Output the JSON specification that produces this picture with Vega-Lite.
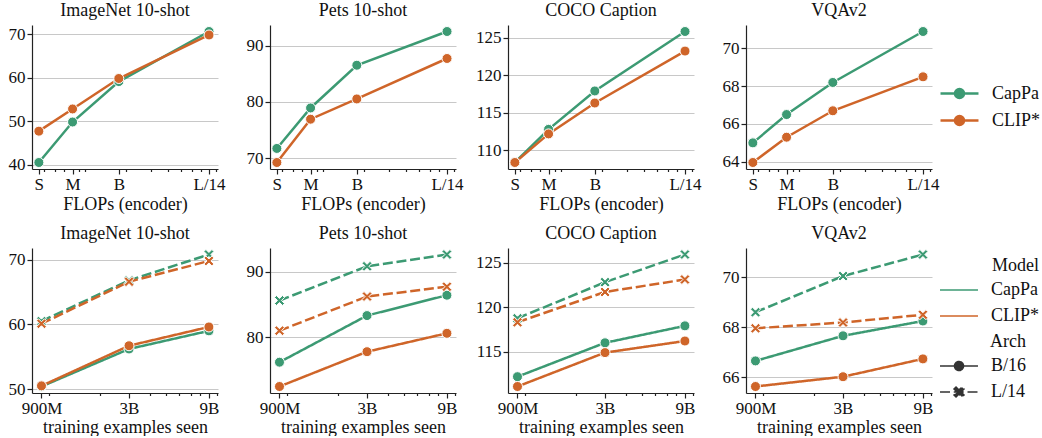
{
  "$schema": "https://vega.github.io/schema/vega-lite/v6.json",
  "background": "white",
  "padding": {"left": 8, "top": 1, "right": 2, "bottom": 0},
  "config": {
    "font": "Liberation Serif",
    "view": {"stroke": null},
    "title": {"font": "Liberation Serif", "fontSize": 18, "fontWeight": "normal", "color": "#111", "offset": 5, "anchor": "middle"},
    "axis": {
      "labelFont": "Liberation Serif", "labelFontSize": 17, "labelColor": "#111",
      "titleFont": "Liberation Serif", "titleFontSize": 18, "titleFontWeight": "normal", "titleColor": "#111",
      "domainColor": "#222", "domainWidth": 1.2, "tickColor": "#222", "tickWidth": 1.2, "tickSize": 5,
      "gridColor": "#c8c8c8", "gridWidth": 1, "labelPadding": 2
    },
    "legend": {
      "labelFont": "Liberation Serif", "labelFontSize": 18, "labelColor": "#111",
      "titleFont": "Liberation Serif", "titleFontSize": 18, "titleFontWeight": "normal", "titleColor": "#111",
      "symbolSize": 324, "labelOffset": 22, "rowPadding": 7, "symbolStrokeWidth": 2.5, "titlePadding": 5
    }
  },
  "datasets": {
    "flops": [
      {"dataset": "ImageNet 10-shot", "model": "CapPa", "size": "S", "flops": 4.6, "score": 40.5},
      {"dataset": "ImageNet 10-shot", "model": "CapPa", "size": "M", "flops": 8.1, "score": 49.8},
      {"dataset": "ImageNet 10-shot", "model": "CapPa", "size": "B", "flops": 17.6, "score": 59.1},
      {"dataset": "ImageNet 10-shot", "model": "CapPa", "size": "L/14", "flops": 80, "score": 70.6},
      {"dataset": "ImageNet 10-shot", "model": "CLIP*", "size": "S", "flops": 4.6, "score": 47.7},
      {"dataset": "ImageNet 10-shot", "model": "CLIP*", "size": "M", "flops": 8.1, "score": 52.8},
      {"dataset": "ImageNet 10-shot", "model": "CLIP*", "size": "B", "flops": 17.6, "score": 59.8},
      {"dataset": "ImageNet 10-shot", "model": "CLIP*", "size": "L/14", "flops": 80, "score": 69.8},
      {"dataset": "Pets 10-shot", "model": "CapPa", "size": "S", "flops": 4.6, "score": 71.7},
      {"dataset": "Pets 10-shot", "model": "CapPa", "size": "M", "flops": 8.1, "score": 78.9},
      {"dataset": "Pets 10-shot", "model": "CapPa", "size": "B", "flops": 17.6, "score": 86.5},
      {"dataset": "Pets 10-shot", "model": "CapPa", "size": "L/14", "flops": 80, "score": 92.5},
      {"dataset": "Pets 10-shot", "model": "CLIP*", "size": "S", "flops": 4.6, "score": 69.2},
      {"dataset": "Pets 10-shot", "model": "CLIP*", "size": "M", "flops": 8.1, "score": 76.9},
      {"dataset": "Pets 10-shot", "model": "CLIP*", "size": "B", "flops": 17.6, "score": 80.5},
      {"dataset": "Pets 10-shot", "model": "CLIP*", "size": "L/14", "flops": 80, "score": 87.7},
      {"dataset": "COCO Caption", "model": "CapPa", "size": "S", "flops": 4.6, "score": 108.4},
      {"dataset": "COCO Caption", "model": "CapPa", "size": "M", "flops": 8.1, "score": 112.8},
      {"dataset": "COCO Caption", "model": "CapPa", "size": "B", "flops": 17.6, "score": 117.9},
      {"dataset": "COCO Caption", "model": "CapPa", "size": "L/14", "flops": 80, "score": 125.8},
      {"dataset": "COCO Caption", "model": "CLIP*", "size": "S", "flops": 4.6, "score": 108.4},
      {"dataset": "COCO Caption", "model": "CLIP*", "size": "M", "flops": 8.1, "score": 112.2},
      {"dataset": "COCO Caption", "model": "CLIP*", "size": "B", "flops": 17.6, "score": 116.3},
      {"dataset": "COCO Caption", "model": "CLIP*", "size": "L/14", "flops": 80, "score": 123.2},
      {"dataset": "VQAv2", "model": "CapPa", "size": "S", "flops": 4.6, "score": 65.0},
      {"dataset": "VQAv2", "model": "CapPa", "size": "M", "flops": 8.1, "score": 66.5},
      {"dataset": "VQAv2", "model": "CapPa", "size": "B", "flops": 17.6, "score": 68.2},
      {"dataset": "VQAv2", "model": "CapPa", "size": "L/14", "flops": 80, "score": 70.9},
      {"dataset": "VQAv2", "model": "CLIP*", "size": "S", "flops": 4.6, "score": 63.96},
      {"dataset": "VQAv2", "model": "CLIP*", "size": "M", "flops": 8.1, "score": 65.3},
      {"dataset": "VQAv2", "model": "CLIP*", "size": "B", "flops": 17.6, "score": 66.7},
      {"dataset": "VQAv2", "model": "CLIP*", "size": "L/14", "flops": 80, "score": 68.5}
    ],
    "examples": [
      {"dataset": "ImageNet 10-shot", "model": "CapPa", "arch": "B/16", "seen": 0.9, "score": 50.4},
      {"dataset": "ImageNet 10-shot", "model": "CapPa", "arch": "B/16", "seen": 3, "score": 56.2},
      {"dataset": "ImageNet 10-shot", "model": "CapPa", "arch": "B/16", "seen": 9, "score": 59.0},
      {"dataset": "ImageNet 10-shot", "model": "CapPa", "arch": "L/14", "seen": 0.9, "score": 60.5},
      {"dataset": "ImageNet 10-shot", "model": "CapPa", "arch": "L/14", "seen": 3, "score": 66.8},
      {"dataset": "ImageNet 10-shot", "model": "CapPa", "arch": "L/14", "seen": 9, "score": 70.8},
      {"dataset": "ImageNet 10-shot", "model": "CLIP*", "arch": "B/16", "seen": 0.9, "score": 50.5},
      {"dataset": "ImageNet 10-shot", "model": "CLIP*", "arch": "B/16", "seen": 3, "score": 56.7},
      {"dataset": "ImageNet 10-shot", "model": "CLIP*", "arch": "B/16", "seen": 9, "score": 59.6},
      {"dataset": "ImageNet 10-shot", "model": "CLIP*", "arch": "L/14", "seen": 0.9, "score": 60.1},
      {"dataset": "ImageNet 10-shot", "model": "CLIP*", "arch": "L/14", "seen": 3, "score": 66.6},
      {"dataset": "ImageNet 10-shot", "model": "CLIP*", "arch": "L/14", "seen": 9, "score": 69.8},
      {"dataset": "Pets 10-shot", "model": "CapPa", "arch": "B/16", "seen": 0.9, "score": 76.2},
      {"dataset": "Pets 10-shot", "model": "CapPa", "arch": "B/16", "seen": 3, "score": 83.3},
      {"dataset": "Pets 10-shot", "model": "CapPa", "arch": "B/16", "seen": 9, "score": 86.4},
      {"dataset": "Pets 10-shot", "model": "CapPa", "arch": "L/14", "seen": 0.9, "score": 85.6},
      {"dataset": "Pets 10-shot", "model": "CapPa", "arch": "L/14", "seen": 3, "score": 90.8},
      {"dataset": "Pets 10-shot", "model": "CapPa", "arch": "L/14", "seen": 9, "score": 92.6},
      {"dataset": "Pets 10-shot", "model": "CLIP*", "arch": "B/16", "seen": 0.9, "score": 72.5},
      {"dataset": "Pets 10-shot", "model": "CLIP*", "arch": "B/16", "seen": 3, "score": 77.8},
      {"dataset": "Pets 10-shot", "model": "CLIP*", "arch": "B/16", "seen": 9, "score": 80.6},
      {"dataset": "Pets 10-shot", "model": "CLIP*", "arch": "L/14", "seen": 0.9, "score": 81.0},
      {"dataset": "Pets 10-shot", "model": "CLIP*", "arch": "L/14", "seen": 3, "score": 86.2},
      {"dataset": "Pets 10-shot", "model": "CLIP*", "arch": "L/14", "seen": 9, "score": 87.7},
      {"dataset": "COCO Caption", "model": "CapPa", "arch": "B/16", "seen": 0.9, "score": 112.2},
      {"dataset": "COCO Caption", "model": "CapPa", "arch": "B/16", "seen": 3, "score": 116.0},
      {"dataset": "COCO Caption", "model": "CapPa", "arch": "B/16", "seen": 9, "score": 117.9},
      {"dataset": "COCO Caption", "model": "CapPa", "arch": "L/14", "seen": 0.9, "score": 118.75},
      {"dataset": "COCO Caption", "model": "CapPa", "arch": "L/14", "seen": 3, "score": 122.8},
      {"dataset": "COCO Caption", "model": "CapPa", "arch": "L/14", "seen": 9, "score": 125.9},
      {"dataset": "COCO Caption", "model": "CLIP*", "arch": "B/16", "seen": 0.9, "score": 111.1},
      {"dataset": "COCO Caption", "model": "CLIP*", "arch": "B/16", "seen": 3, "score": 114.9},
      {"dataset": "COCO Caption", "model": "CLIP*", "arch": "B/16", "seen": 9, "score": 116.2},
      {"dataset": "COCO Caption", "model": "CLIP*", "arch": "L/14", "seen": 0.9, "score": 118.3},
      {"dataset": "COCO Caption", "model": "CLIP*", "arch": "L/14", "seen": 3, "score": 121.7},
      {"dataset": "COCO Caption", "model": "CLIP*", "arch": "L/14", "seen": 9, "score": 123.1},
      {"dataset": "VQAv2", "model": "CapPa", "arch": "B/16", "seen": 0.9, "score": 66.66},
      {"dataset": "VQAv2", "model": "CapPa", "arch": "B/16", "seen": 3, "score": 67.66},
      {"dataset": "VQAv2", "model": "CapPa", "arch": "B/16", "seen": 9, "score": 68.25},
      {"dataset": "VQAv2", "model": "CapPa", "arch": "L/14", "seen": 0.9, "score": 68.6},
      {"dataset": "VQAv2", "model": "CapPa", "arch": "L/14", "seen": 3, "score": 70.04},
      {"dataset": "VQAv2", "model": "CapPa", "arch": "L/14", "seen": 9, "score": 70.9},
      {"dataset": "VQAv2", "model": "CLIP*", "arch": "B/16", "seen": 0.9, "score": 65.64},
      {"dataset": "VQAv2", "model": "CLIP*", "arch": "B/16", "seen": 3, "score": 66.03},
      {"dataset": "VQAv2", "model": "CLIP*", "arch": "B/16", "seen": 9, "score": 66.74},
      {"dataset": "VQAv2", "model": "CLIP*", "arch": "L/14", "seen": 0.9, "score": 67.96},
      {"dataset": "VQAv2", "model": "CLIP*", "arch": "L/14", "seen": 3, "score": 68.19},
      {"dataset": "VQAv2", "model": "CLIP*", "arch": "L/14", "seen": 9, "score": 68.5}
    ]
  },
  "spacing": 11,
  "resolve": {"legend": {"color": "independent", "strokeDash": "independent"}},
  "vconcat": [
    {
      "data": {"name": "flops"},
      "bounds": "flush",
      "spacing": 52,
      "hconcat": [
        {
          "title": "ImageNet 10-shot",
          "transform": [{"filter": "datum.dataset == 'ImageNet 10-shot'"}],
          "width": 186, "height": 144,
          "encoding": {
            "x": {"field": "flops", "type": "quantitative", "scale": {"type": "log", "domain": [4.1, 93], "nice": false},
              "axis": {"title": "FLOPs (encoder)", "grid": false, "labelOverlap": false, "labelFlush": false, "titlePadding": 3,
                "values": [4.6, 5, 6, 7, 8.1, 9, 10, 17.6, 20, 30, 40, 50, 60, 70, 80, 90],
                "labelExpr": "datum.value == 4.6 ? 'S' : datum.value == 8.1 ? 'M' : datum.value == 17.6 ? 'B' : datum.value == 80 ? 'L/14' : ''",
                "tickSize": {"condition": {"test": "datum.value == 4.6 || datum.value == 8.1 || datum.value == 17.6 || datum.value == 80", "value": 5}, "value": 2.5}}},
            "y": {"field": "score", "type": "quantitative", "scale": {"zero": false, "nice": false, "padding": 6.5},
              "axis": {"title": null, "grid": true, "format": "d", "values": [40, 50, 60, 70]}},
            "color": {"field": "model", "type": "nominal", "scale": {"domain": ["CapPa", "CLIP*"], "range": ["#3c9a73", "#cf6529"]},
              "legend": {"title": null, "orient": "none", "legendX": 917, "legendY": 58,
                "symbolType": "M-2.11,0L2.11,0M-0.5,0A0.5,0.5,0,1,1,0.5,0A0.5,0.5,0,1,1,-0.5,0Z",
                "encoding": {"symbols": {
                  "fill": {"value": {"expr": "datum.value === 'CapPa' ? '#3c9a73' : '#cf6529'"}},
                  "stroke": {"value": {"expr": "datum.value === 'CapPa' ? '#3c9a73' : '#cf6529'"}},
                  "strokeWidth": {"value": 2.5}}}}}
          },
          "layer": [
            {"mark": {"type": "line", "strokeWidth": 2.5}},
            {"mark": {"type": "point", "filled": true, "shape": "circle", "size": 100, "stroke": "white", "strokeWidth": 1, "opacity": 1}}
          ]
        },
        {
          "title": "Pets 10-shot",
          "transform": [{"filter": "datum.dataset == 'Pets 10-shot'"}],
          "width": 186, "height": 144,
          "encoding": {
            "x": {"field": "flops", "type": "quantitative", "scale": {"type": "log", "domain": [4.1, 93], "nice": false},
              "axis": {"title": "FLOPs (encoder)", "grid": false, "labelOverlap": false, "labelFlush": false, "titlePadding": 3,
                "values": [4.6, 5, 6, 7, 8.1, 9, 10, 17.6, 20, 30, 40, 50, 60, 70, 80, 90],
                "labelExpr": "datum.value == 4.6 ? 'S' : datum.value == 8.1 ? 'M' : datum.value == 17.6 ? 'B' : datum.value == 80 ? 'L/14' : ''",
                "tickSize": {"condition": {"test": "datum.value == 4.6 || datum.value == 8.1 || datum.value == 17.6 || datum.value == 80", "value": 5}, "value": 2.5}}},
            "y": {"field": "score", "type": "quantitative", "scale": {"zero": false, "nice": false, "padding": 6.5},
              "axis": {"title": null, "grid": true, "format": "d", "values": [70, 80, 90]}},
            "color": {"field": "model", "type": "nominal", "scale": {"domain": ["CapPa", "CLIP*"], "range": ["#3c9a73", "#cf6529"]},
              "legend": {"title": null, "orient": "none", "legendX": 917, "legendY": 58,
                "symbolType": "M-2.11,0L2.11,0M-0.5,0A0.5,0.5,0,1,1,0.5,0A0.5,0.5,0,1,1,-0.5,0Z",
                "encoding": {"symbols": {
                  "fill": {"value": {"expr": "datum.value === 'CapPa' ? '#3c9a73' : '#cf6529'"}},
                  "stroke": {"value": {"expr": "datum.value === 'CapPa' ? '#3c9a73' : '#cf6529'"}},
                  "strokeWidth": {"value": 2.5}}}}}
          },
          "layer": [
            {"mark": {"type": "line", "strokeWidth": 2.5}},
            {"mark": {"type": "point", "filled": true, "shape": "circle", "size": 100, "stroke": "white", "strokeWidth": 1, "opacity": 1}}
          ]
        },
        {
          "title": "COCO Caption",
          "transform": [{"filter": "datum.dataset == 'COCO Caption'"}],
          "width": 186, "height": 144,
          "encoding": {
            "x": {"field": "flops", "type": "quantitative", "scale": {"type": "log", "domain": [4.1, 93], "nice": false},
              "axis": {"title": "FLOPs (encoder)", "grid": false, "labelOverlap": false, "labelFlush": false, "titlePadding": 3,
                "values": [4.6, 5, 6, 7, 8.1, 9, 10, 17.6, 20, 30, 40, 50, 60, 70, 80, 90],
                "labelExpr": "datum.value == 4.6 ? 'S' : datum.value == 8.1 ? 'M' : datum.value == 17.6 ? 'B' : datum.value == 80 ? 'L/14' : ''",
                "tickSize": {"condition": {"test": "datum.value == 4.6 || datum.value == 8.1 || datum.value == 17.6 || datum.value == 80", "value": 5}, "value": 2.5}}},
            "y": {"field": "score", "type": "quantitative", "scale": {"zero": false, "nice": false, "padding": 6.5},
              "axis": {"title": null, "grid": true, "format": "d", "values": [110, 115, 120, 125]}},
            "color": {"field": "model", "type": "nominal", "scale": {"domain": ["CapPa", "CLIP*"], "range": ["#3c9a73", "#cf6529"]},
              "legend": {"title": null, "orient": "none", "legendX": 917, "legendY": 58,
                "symbolType": "M-2.11,0L2.11,0M-0.5,0A0.5,0.5,0,1,1,0.5,0A0.5,0.5,0,1,1,-0.5,0Z",
                "encoding": {"symbols": {
                  "fill": {"value": {"expr": "datum.value === 'CapPa' ? '#3c9a73' : '#cf6529'"}},
                  "stroke": {"value": {"expr": "datum.value === 'CapPa' ? '#3c9a73' : '#cf6529'"}},
                  "strokeWidth": {"value": 2.5}}}}}
          },
          "layer": [
            {"mark": {"type": "line", "strokeWidth": 2.5}},
            {"mark": {"type": "point", "filled": true, "shape": "circle", "size": 100, "stroke": "white", "strokeWidth": 1, "opacity": 1}}
          ]
        },
        {
          "title": "VQAv2",
          "transform": [{"filter": "datum.dataset == 'VQAv2'"}],
          "width": 186, "height": 144,
          "encoding": {
            "x": {"field": "flops", "type": "quantitative", "scale": {"type": "log", "domain": [4.1, 93], "nice": false},
              "axis": {"title": "FLOPs (encoder)", "grid": false, "labelOverlap": false, "labelFlush": false, "titlePadding": 3,
                "values": [4.6, 5, 6, 7, 8.1, 9, 10, 17.6, 20, 30, 40, 50, 60, 70, 80, 90],
                "labelExpr": "datum.value == 4.6 ? 'S' : datum.value == 8.1 ? 'M' : datum.value == 17.6 ? 'B' : datum.value == 80 ? 'L/14' : ''",
                "tickSize": {"condition": {"test": "datum.value == 4.6 || datum.value == 8.1 || datum.value == 17.6 || datum.value == 80", "value": 5}, "value": 2.5}}},
            "y": {"field": "score", "type": "quantitative", "scale": {"zero": false, "nice": false, "padding": 6.5},
              "axis": {"title": null, "grid": true, "format": "d", "values": [64, 66, 68, 70]}},
            "color": {"field": "model", "type": "nominal", "scale": {"domain": ["CapPa", "CLIP*"], "range": ["#3c9a73", "#cf6529"]},
              "legend": {"title": null, "orient": "none", "legendX": 917, "legendY": 58,
                "symbolType": "M-2.11,0L2.11,0M-0.5,0A0.5,0.5,0,1,1,0.5,0A0.5,0.5,0,1,1,-0.5,0Z",
                "encoding": {"symbols": {
                  "fill": {"value": {"expr": "datum.value === 'CapPa' ? '#3c9a73' : '#cf6529'"}},
                  "stroke": {"value": {"expr": "datum.value === 'CapPa' ? '#3c9a73' : '#cf6529'"}},
                  "strokeWidth": {"value": 2.5}}}}}
          },
          "layer": [
            {"mark": {"type": "line", "strokeWidth": 2.5}},
            {"mark": {"type": "point", "filled": true, "shape": "circle", "size": 100, "stroke": "white", "strokeWidth": 1, "opacity": 1}}
          ]
        }
      ]
    },
    {
      "data": {"name": "examples"},
      "bounds": "flush",
      "spacing": 52,
      "hconcat": [
        {
          "title": "ImageNet 10-shot",
          "transform": [{"filter": "datum.dataset == 'ImageNet 10-shot'"}],
          "width": 186, "height": 145,
          "encoding": {
            "x": {"field": "seen", "type": "quantitative", "scale": {"type": "log", "domain": [0.79, 10.2], "nice": false},
              "axis": {"title": "training examples seen", "grid": false, "labelOverlap": false, "labelFlush": false, "titlePadding": 2,
                "values": [0.9, 1, 2, 3, 4, 5, 6, 7, 8, 9, 10],
                "labelExpr": "datum.value == 0.9 ? '900M' : datum.value == 3 ? '3B' : datum.value == 9 ? '9B' : ''",
                "tickSize": {"condition": {"test": "datum.value == 0.9 || datum.value == 3 || datum.value == 9", "value": 5}, "value": 2.5}}},
            "y": {"field": "score", "type": "quantitative", "scale": {"zero": false, "nice": false, "padding": 6.5},
              "axis": {"title": null, "grid": true, "format": "d", "values": [50, 60, 70]}},
            "color": {"field": "model", "type": "nominal", "scale": {"domain": ["CapPa", "CLIP*"], "range": ["#3c9a73", "#cf6529"]},
              "legend": {"title": "Model", "titleAnchor": "end", "orient": "none", "legendX": 917, "legendY": 9,
                "symbolType": "M-2.11,0L2.11,0",
                "encoding": {"symbols": {
                  "stroke": {"value": {"expr": "datum.value === 'CapPa' ? '#3c9a73' : '#cf6529'"}},
                  "strokeWidth": {"value": 1.6}}}}}
          },
          "layer": [
            {"mark": {"type": "line", "strokeWidth": 2.5},
             "encoding": {"strokeDash": {"field": "arch", "type": "nominal", "scale": {"domain": ["B/16", "L/14"], "range": [[1, 0], [10, 3.75]]},
               "legend": {"title": "Arch", "titleAnchor": "end", "orient": "none", "legendX": 917, "legendY": 85,
                 "encoding": {"symbols": {
                   "shape": {"value": {"expr": "datum.value === 'B/16' ? 'M-2.11,0L2.11,0M-0.5,0A0.5,0.5,0,1,1,0.5,0A0.5,0.5,0,1,1,-0.5,0Z' : 'M-2.11,0L2.11,0M-0.55,-0.33L-0.33,-0.55L0,-0.22L0.33,-0.55L0.55,-0.33L0.22,0L0.55,0.33L0.33,0.55L0,0.22L-0.33,0.55L-0.55,0.33L-0.22,0Z'"}},
                   "fill": {"value": "#333"}, "stroke": {"value": "#333"}, "strokeWidth": {"value": 1.6}}}}}}},
            {"transform": [{"filter": "datum.arch == 'B/16'"}],
             "mark": {"type": "point", "filled": true, "shape": "circle", "size": 100, "stroke": "white", "strokeWidth": 1, "opacity": 1}},
            {"transform": [{"filter": "datum.arch == 'L/14'"}],
             "mark": {"type": "point", "filled": true, "shape": "M-1,-0.6L-0.6,-1L0,-0.4L0.6,-1L1,-0.6L0.4,0L1,0.6L0.6,1L0,0.4L-0.6,1L-1,0.6L-0.4,0Z", "size": 100, "stroke": "white", "strokeWidth": 1, "opacity": 1}}
          ]
        },
        {
          "title": "Pets 10-shot",
          "transform": [{"filter": "datum.dataset == 'Pets 10-shot'"}],
          "width": 186, "height": 145,
          "encoding": {
            "x": {"field": "seen", "type": "quantitative", "scale": {"type": "log", "domain": [0.79, 10.2], "nice": false},
              "axis": {"title": "training examples seen", "grid": false, "labelOverlap": false, "labelFlush": false, "titlePadding": 2,
                "values": [0.9, 1, 2, 3, 4, 5, 6, 7, 8, 9, 10],
                "labelExpr": "datum.value == 0.9 ? '900M' : datum.value == 3 ? '3B' : datum.value == 9 ? '9B' : ''",
                "tickSize": {"condition": {"test": "datum.value == 0.9 || datum.value == 3 || datum.value == 9", "value": 5}, "value": 2.5}}},
            "y": {"field": "score", "type": "quantitative", "scale": {"zero": false, "nice": false, "padding": 6.5},
              "axis": {"title": null, "grid": true, "format": "d", "values": [80, 90]}},
            "color": {"field": "model", "type": "nominal", "scale": {"domain": ["CapPa", "CLIP*"], "range": ["#3c9a73", "#cf6529"]},
              "legend": {"title": "Model", "titleAnchor": "end", "orient": "none", "legendX": 917, "legendY": 9,
                "symbolType": "M-2.11,0L2.11,0",
                "encoding": {"symbols": {
                  "stroke": {"value": {"expr": "datum.value === 'CapPa' ? '#3c9a73' : '#cf6529'"}},
                  "strokeWidth": {"value": 1.6}}}}}
          },
          "layer": [
            {"mark": {"type": "line", "strokeWidth": 2.5},
             "encoding": {"strokeDash": {"field": "arch", "type": "nominal", "scale": {"domain": ["B/16", "L/14"], "range": [[1, 0], [10, 3.75]]},
               "legend": {"title": "Arch", "titleAnchor": "end", "orient": "none", "legendX": 917, "legendY": 85,
                 "encoding": {"symbols": {
                   "shape": {"value": {"expr": "datum.value === 'B/16' ? 'M-2.11,0L2.11,0M-0.5,0A0.5,0.5,0,1,1,0.5,0A0.5,0.5,0,1,1,-0.5,0Z' : 'M-2.11,0L2.11,0M-0.55,-0.33L-0.33,-0.55L0,-0.22L0.33,-0.55L0.55,-0.33L0.22,0L0.55,0.33L0.33,0.55L0,0.22L-0.33,0.55L-0.55,0.33L-0.22,0Z'"}},
                   "fill": {"value": "#333"}, "stroke": {"value": "#333"}, "strokeWidth": {"value": 1.6}}}}}}},
            {"transform": [{"filter": "datum.arch == 'B/16'"}],
             "mark": {"type": "point", "filled": true, "shape": "circle", "size": 100, "stroke": "white", "strokeWidth": 1, "opacity": 1}},
            {"transform": [{"filter": "datum.arch == 'L/14'"}],
             "mark": {"type": "point", "filled": true, "shape": "M-1,-0.6L-0.6,-1L0,-0.4L0.6,-1L1,-0.6L0.4,0L1,0.6L0.6,1L0,0.4L-0.6,1L-1,0.6L-0.4,0Z", "size": 100, "stroke": "white", "strokeWidth": 1, "opacity": 1}}
          ]
        },
        {
          "title": "COCO Caption",
          "transform": [{"filter": "datum.dataset == 'COCO Caption'"}],
          "width": 186, "height": 145,
          "encoding": {
            "x": {"field": "seen", "type": "quantitative", "scale": {"type": "log", "domain": [0.79, 10.2], "nice": false},
              "axis": {"title": "training examples seen", "grid": false, "labelOverlap": false, "labelFlush": false, "titlePadding": 2,
                "values": [0.9, 1, 2, 3, 4, 5, 6, 7, 8, 9, 10],
                "labelExpr": "datum.value == 0.9 ? '900M' : datum.value == 3 ? '3B' : datum.value == 9 ? '9B' : ''",
                "tickSize": {"condition": {"test": "datum.value == 0.9 || datum.value == 3 || datum.value == 9", "value": 5}, "value": 2.5}}},
            "y": {"field": "score", "type": "quantitative", "scale": {"zero": false, "nice": false, "padding": 6.5},
              "axis": {"title": null, "grid": true, "format": "d", "values": [115, 120, 125]}},
            "color": {"field": "model", "type": "nominal", "scale": {"domain": ["CapPa", "CLIP*"], "range": ["#3c9a73", "#cf6529"]},
              "legend": {"title": "Model", "titleAnchor": "end", "orient": "none", "legendX": 917, "legendY": 9,
                "symbolType": "M-2.11,0L2.11,0",
                "encoding": {"symbols": {
                  "stroke": {"value": {"expr": "datum.value === 'CapPa' ? '#3c9a73' : '#cf6529'"}},
                  "strokeWidth": {"value": 1.6}}}}}
          },
          "layer": [
            {"mark": {"type": "line", "strokeWidth": 2.5},
             "encoding": {"strokeDash": {"field": "arch", "type": "nominal", "scale": {"domain": ["B/16", "L/14"], "range": [[1, 0], [10, 3.75]]},
               "legend": {"title": "Arch", "titleAnchor": "end", "orient": "none", "legendX": 917, "legendY": 85,
                 "encoding": {"symbols": {
                   "shape": {"value": {"expr": "datum.value === 'B/16' ? 'M-2.11,0L2.11,0M-0.5,0A0.5,0.5,0,1,1,0.5,0A0.5,0.5,0,1,1,-0.5,0Z' : 'M-2.11,0L2.11,0M-0.55,-0.33L-0.33,-0.55L0,-0.22L0.33,-0.55L0.55,-0.33L0.22,0L0.55,0.33L0.33,0.55L0,0.22L-0.33,0.55L-0.55,0.33L-0.22,0Z'"}},
                   "fill": {"value": "#333"}, "stroke": {"value": "#333"}, "strokeWidth": {"value": 1.6}}}}}}},
            {"transform": [{"filter": "datum.arch == 'B/16'"}],
             "mark": {"type": "point", "filled": true, "shape": "circle", "size": 100, "stroke": "white", "strokeWidth": 1, "opacity": 1}},
            {"transform": [{"filter": "datum.arch == 'L/14'"}],
             "mark": {"type": "point", "filled": true, "shape": "M-1,-0.6L-0.6,-1L0,-0.4L0.6,-1L1,-0.6L0.4,0L1,0.6L0.6,1L0,0.4L-0.6,1L-1,0.6L-0.4,0Z", "size": 100, "stroke": "white", "strokeWidth": 1, "opacity": 1}}
          ]
        },
        {
          "title": "VQAv2",
          "transform": [{"filter": "datum.dataset == 'VQAv2'"}],
          "width": 186, "height": 145,
          "encoding": {
            "x": {"field": "seen", "type": "quantitative", "scale": {"type": "log", "domain": [0.79, 10.2], "nice": false},
              "axis": {"title": "training examples seen", "grid": false, "labelOverlap": false, "labelFlush": false, "titlePadding": 2,
                "values": [0.9, 1, 2, 3, 4, 5, 6, 7, 8, 9, 10],
                "labelExpr": "datum.value == 0.9 ? '900M' : datum.value == 3 ? '3B' : datum.value == 9 ? '9B' : ''",
                "tickSize": {"condition": {"test": "datum.value == 0.9 || datum.value == 3 || datum.value == 9", "value": 5}, "value": 2.5}}},
            "y": {"field": "score", "type": "quantitative", "scale": {"zero": false, "nice": false, "padding": 6.5},
              "axis": {"title": null, "grid": true, "format": "d", "values": [66, 68, 70]}},
            "color": {"field": "model", "type": "nominal", "scale": {"domain": ["CapPa", "CLIP*"], "range": ["#3c9a73", "#cf6529"]},
              "legend": {"title": "Model", "titleAnchor": "end", "orient": "none", "legendX": 917, "legendY": 9,
                "symbolType": "M-2.11,0L2.11,0",
                "encoding": {"symbols": {
                  "stroke": {"value": {"expr": "datum.value === 'CapPa' ? '#3c9a73' : '#cf6529'"}},
                  "strokeWidth": {"value": 1.6}}}}}
          },
          "layer": [
            {"mark": {"type": "line", "strokeWidth": 2.5},
             "encoding": {"strokeDash": {"field": "arch", "type": "nominal", "scale": {"domain": ["B/16", "L/14"], "range": [[1, 0], [10, 3.75]]},
               "legend": {"title": "Arch", "titleAnchor": "end", "orient": "none", "legendX": 917, "legendY": 85,
                 "encoding": {"symbols": {
                   "shape": {"value": {"expr": "datum.value === 'B/16' ? 'M-2.11,0L2.11,0M-0.5,0A0.5,0.5,0,1,1,0.5,0A0.5,0.5,0,1,1,-0.5,0Z' : 'M-2.11,0L2.11,0M-0.55,-0.33L-0.33,-0.55L0,-0.22L0.33,-0.55L0.55,-0.33L0.22,0L0.55,0.33L0.33,0.55L0,0.22L-0.33,0.55L-0.55,0.33L-0.22,0Z'"}},
                   "fill": {"value": "#333"}, "stroke": {"value": "#333"}, "strokeWidth": {"value": 1.6}}}}}}},
            {"transform": [{"filter": "datum.arch == 'B/16'"}],
             "mark": {"type": "point", "filled": true, "shape": "circle", "size": 100, "stroke": "white", "strokeWidth": 1, "opacity": 1}},
            {"transform": [{"filter": "datum.arch == 'L/14'"}],
             "mark": {"type": "point", "filled": true, "shape": "M-1,-0.6L-0.6,-1L0,-0.4L0.6,-1L1,-0.6L0.4,0L1,0.6L0.6,1L0,0.4L-0.6,1L-1,0.6L-0.4,0Z", "size": 100, "stroke": "white", "strokeWidth": 1, "opacity": 1}}
          ]
        }
      ]
    }
  ]
}
